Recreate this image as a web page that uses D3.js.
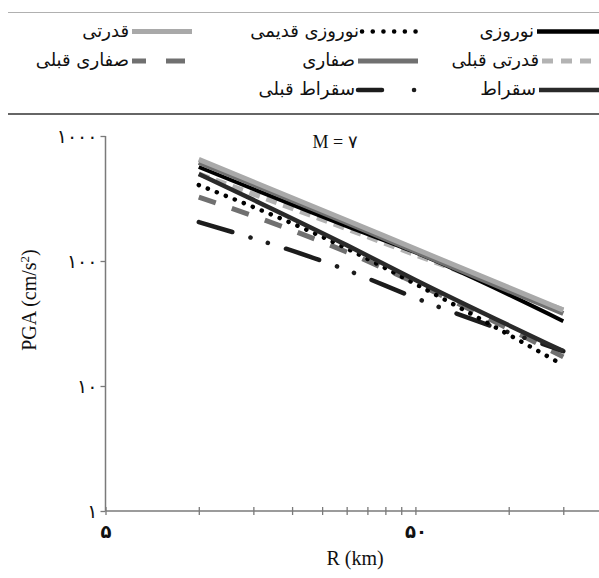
<!DOCTYPE html>
<html><head><meta charset="utf-8">
<script src="https://cdn.jsdelivr.net/npm/d3@7"></script>
<style>body{margin:0;background:#fff}svg{display:block}</style>
</head><body><svg id="c" width="599" height="578"></svg>
<script>
// ---- data ----
const distances = [10, 30, 50, 150];           // R (km)
const seriesNames = ["نوروزی","نوروزی قدیمی","قدرتی","قدرتی قبلی","صفاری","صفاری قبلی","سقراط","سقراط قبلی"];
const norouzi      = [565, 190, 117, 33];
const norouziOld   = [405, 126, 65.5, 14.7];
const ghodrati     = [650, 212, 125, 40.5];
const ghodratiOld  = [497, 181, 112, 40.6];
const saffari      = [615, 203, 119, 38];
const saffariOld   = [325, 118, 66.7, 17.1];
const soghrat      = [497, 134, 70.5, 19];
const soghratOld   = [205, 84.7, 50.6, 19];
const xTicks = [5,10,15,20,25,30,35,40,45,50,100,150];
const xTickLabels = {5:"۵", 50:"۵۰"};
const yTicks = [1,10,100,1000];
const yTickLabels = ["۱","۱۰","۱۰۰","۱۰۰۰"];
const title = "M = ۷";

const styles = {
  "نوروزی":       {c:"#000000", w:4, d:null, cap:"butt"},
  "نوروزی قدیمی": {c:"#000000", w:4.5, d:"0.1,9.6", cap:"round"},
  "قدرتی":        {c:"#a9a9a9", w:5, d:null, cap:"butt"},
  "قدرتی قبلی":   {c:"#b3b3b3", w:5, d:"11,7", cap:"butt"},
  "صفاری":        {c:"#707070", w:5, d:null, cap:"butt"},
  "صفاری قبلی":   {c:"#707070", w:5, d:"18,17", cap:"butt"},
  "سقراط":        {c:"#2a2a2a", w:4.5, d:null, cap:"butt"},
  "سقراط قبلی":   {c:"#1c1c1c", w:4.5, d:"35,19,0.1,18,0.1,19", cap:"round"}
};
const valuesByName = {
  "نوروزی":norouzi, "نوروزی قدیمی":norouziOld, "قدرتی":ghodrati, "قدرتی قبلی":ghodratiOld,
  "صفاری":saffari, "صفاری قبلی":saffariOld, "سقراط":soghrat, "سقراط قبلی":soghratOld
};
const drawOrder = ["قدرتی قبلی","صفاری قبلی","سقراط قبلی","نوروزی قدیمی","سقراط","نوروزی","صفاری","قدرتی"];

const svg = d3.select("#c");
const x = d3.scaleLog().domain([5,200]).range([105.5, 602]);
const y = d3.scaleLog().domain([1,1000]).range([511, 136]);
const axisColor = "#7a7a7a";
const faFont = "'DejaVu Sans', sans-serif";
const serif = "'Liberation Serif','Times New Roman',serif";

// ---- legend ----
svg.append("line").attr("x1",8).attr("x2",599).attr("y1",12.5).attr("y2",12.5).attr("stroke","#b0b0b0").attr("stroke-width",1.2);
svg.append("line").attr("x1",8).attr("x2",599).attr("y1",114).attr("y2",114).attr("stroke","#333").attr("stroke-width",1.6);
const legendItems = [
  {n:"نوروزی", x1:537, x2:606, row:0, d:null},
  {n:"نوروزی قدیمی", x1:362, x2:416, row:0, d:"0.1,10.6"},
  {n:"قدرتی", x1:132, x2:192, row:0, d:null},
  {n:"قدرتی قبلی", x1:542, x2:602, row:1, d:"11,8"},
  {n:"صفاری", x1:358, x2:418, row:1, d:null},
  {n:"صفاری قبلی", x1:132, x2:186, row:1, d:"14,20,19"},
  {n:"سقراط", x1:539, x2:606, row:2, d:null},
  {n:"سقراط قبلی", x1:358, x2:420, row:2, d:"24,32,0.1,20"}
];
const rowY = [31.5, 61, 90];
const lg = svg.append("g");
legendItems.forEach(it => {
  const s = styles[it.n];
  lg.append("line").attr("x1",it.x1).attr("x2",it.x2).attr("y1",rowY[it.row]).attr("y2",rowY[it.row])
    .attr("stroke",s.c).attr("stroke-width",Math.max(4.5,s.w)).attr("stroke-dasharray",it.d)
    .attr("stroke-linecap", it.n==="سقراط قبلی"||it.n==="نوروزی قدیمی" ? "round":"butt");
  lg.append("text").attr("x",it.x1-3).attr("y",rowY[it.row]+5).attr("text-anchor","end")
    .attr("font-family",faFont).attr("font-size",18).attr("fill","#111").text(it.n);
});

// ---- axes ----
const gx = svg.append("g").attr("transform","translate(0,511)");
gx.call(d3.axisBottom(x).tickValues(xTicks).tickSize(0).tickFormat(""));
gx.select(".domain").remove();
gx.append("line").attr("x1",x(5)).attr("x2",599).attr("y1",0).attr("y2",0).attr("stroke",axisColor).attr("stroke-width",1.5);
gx.selectAll(".tick").append("line").attr("y1",-4).attr("y2",4).attr("stroke",axisColor).attr("stroke-width",1.3);
gx.selectAll(".tick").filter(d=>xTickLabels[d]).append("text").attr("y",27).attr("text-anchor","middle")
  .attr("font-family",faFont).attr("font-size",18).attr("font-weight","bold").attr("fill","#111").text(d=>xTickLabels[d]);

const gy = svg.append("g").attr("transform","translate(105.5,0)");
gy.call(d3.axisLeft(y).tickValues(yTicks).tickSize(0).tickFormat(""));
gy.select(".domain").remove();
gy.append("line").attr("x1",0).attr("x2",0).attr("y1",y(1000)).attr("y2",y(1)).attr("stroke",axisColor).attr("stroke-width",1.5);
gy.selectAll(".tick").append("line").attr("x1",-5).attr("x2",0).attr("stroke",axisColor).attr("stroke-width",1.3);
gy.selectAll(".tick").append("text").attr("x",-8).attr("y",6).attr("text-anchor","end")
  .attr("font-family",faFont).attr("font-size",19).attr("fill","#111").text((d,i)=>yTickLabels[i]);

// axis titles
svg.append("text").attr("x",355).attr("y",565).attr("text-anchor","middle")
  .attr("font-family",serif).attr("font-size",20).attr("fill","#111").text("R (km)");
const yl = svg.append("text").attr("transform","translate(36,300) rotate(-90)").attr("text-anchor","middle")
  .attr("font-family",serif).attr("font-size",20).attr("fill","#111");
yl.append("tspan").text("PGA (cm/s");
yl.append("tspan").attr("baseline-shift","super").attr("font-size",13).text("2");
yl.append("tspan").text(")");
svg.append("text").attr("x",335).attr("y",148).attr("text-anchor","middle")
  .attr("font-family",serif).attr("font-size",18).attr("fill","#111").text(title);

// ---- lines ----
const line = d3.line().x(d=>x(d[0])).y(d=>y(d[1])).curve(d3.curveMonotoneX);
drawOrder.forEach(n => {
  const s = styles[n];
  svg.append("path").datum(distances.map((r,i)=>[r, valuesByName[n][i]]))
    .attr("d", line).attr("fill","none").attr("stroke",s.c).attr("stroke-width",s.w)
    .attr("stroke-dasharray",s.d).attr("stroke-linecap",s.cap);
});
</script></body></html>
